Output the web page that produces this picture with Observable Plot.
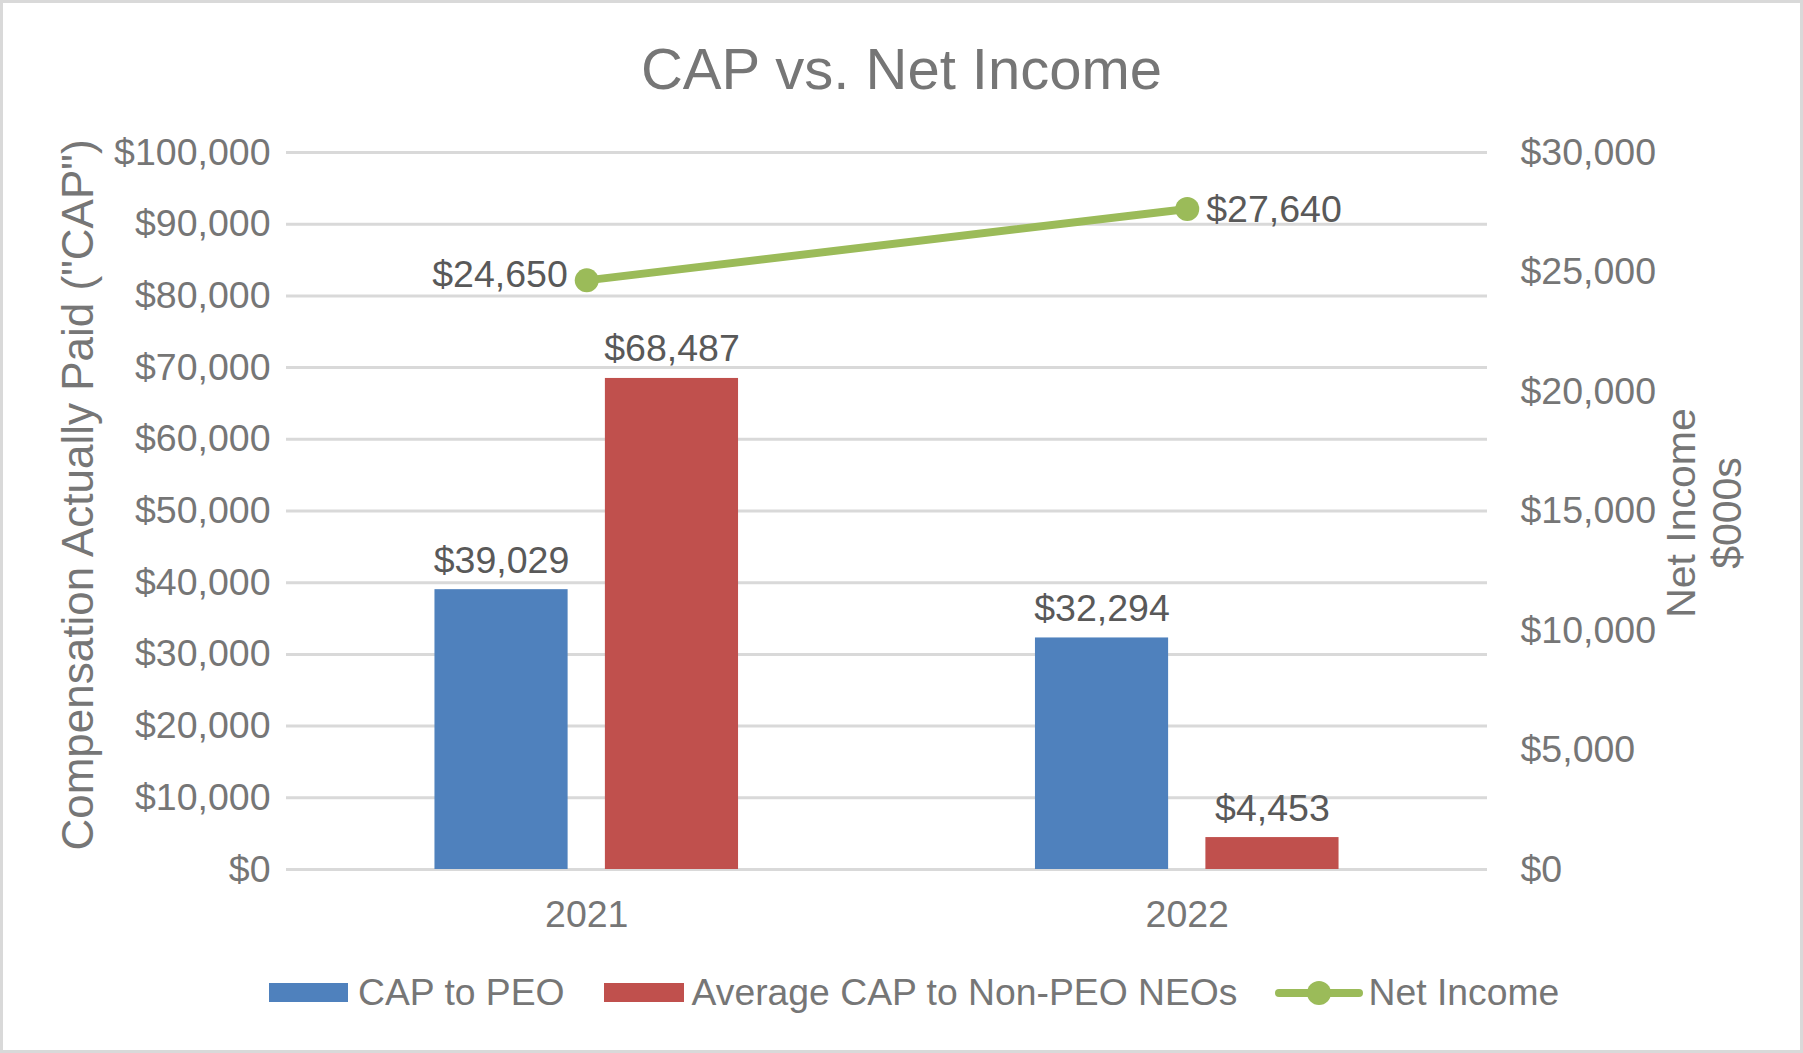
<!DOCTYPE html>
<html>
<head>
<meta charset="utf-8">
<script src="https://cdn.jsdelivr.net/npm/d3@7"></script>
<script src="https://cdn.jsdelivr.net/npm/@observablehq/plot@0.6"></script>
<style>
  html, body { margin: 0; padding: 0; background: #fff; }
  #chart { position: relative; width: 1803px; height: 1053px; overflow: hidden;
           font-family: "Liberation Sans", Arial, sans-serif; background: #fff; }
  #frame { position: absolute; left: 0; top: 0; right: 0; bottom: 0; box-sizing: border-box;
           border: 3px solid #d9d9d9; pointer-events: none; }
  #title { position: absolute; left: 0; right: 0; top: 40px; text-align: center;
           font-size: 58px; line-height: 58px; color: #767676; }
  #plot { position: absolute; left: 0; top: 101px; }
  #legend { position: absolute; left: 269px; top: 974px; display: flex; align-items: center;
            font-size: 37.3px; line-height: 37px; color: #767676; white-space: nowrap; }
  .item { display: flex; align-items: center; }
  .sw { display: inline-block; width: 79px; height: 19px; }
</style>
</head>
<body>
<div id="chart">
  <div id="title"></div>
  <div id="plot"></div>
  <div id="legend"></div>
  <div id="frame"></div>
</div>
<script>
// ---- data ----
const chartTitle = "CAP vs. Net Income";
const years = ["2021", "2022"];
const capPEO = [39029, 32294];
const capNEO = [68487, 4453];
const netIncome = [24650, 27640];
const leftTicks = [0, 10000, 20000, 30000, 40000, 50000, 60000, 70000, 80000, 90000, 100000];
const rightTicks = [0, 5000, 10000, 15000, 20000, 25000, 30000];
const seriesNames = ["CAP to PEO", "Average CAP to Non-PEO NEOs", "Net Income"];
const leftTitle = "Compensation Actually Paid (\"CAP\")";
const rightTitle = "Net Income\n$000s";

// ---- styling ----
const colors = ["#4F81BD", "#C0504D", "#9BBB59"];
const axisGray = "#767676";
const labelGray = "#595959";
const fmt = d3.format(",");
const money = v => "$" + fmt(v);
const FS = 37.5;

const W = 1803, H = 848, ML = 286, MR = 316, MT = 51, MB = 80;
const leftMax = 100000, rightMax = 30000;
const factor = leftMax / rightMax;

const bandW = (W - ML - MR) / years.length;
const gapWidth = 2.23, seriesGap = 0.28;
const barW = bandW / (2 + gapWidth + seriesGap);
const outer = gapWidth * barW / 2;
const peoInset = {insetLeft: outer, insetRight: bandW - outer - barW};
const neoInset = {insetLeft: outer + barW + seriesGap * barW, insetRight: outer};
const peoDx = outer + barW / 2 - bandW / 2;
const neoDx = -peoDx;

const peoData = years.map((year, i) => ({year, value: capPEO[i]}));
const neoData = years.map((year, i) => ({year, value: capNEO[i]}));
const netData = years.map((year, i) => ({year, value: netIncome[i]}));

document.getElementById("title").textContent = chartTitle;

const plot = Plot.plot({
  width: W, height: H,
  marginLeft: ML, marginRight: MR, marginTop: MT, marginBottom: MB,
  style: {fontFamily: "'Liberation Sans', Arial, sans-serif", fontSize: FS + "px", color: axisGray, background: "transparent", overflow: "visible"},
  x: {type: "band", domain: years, padding: 0, round: false},
  y: {domain: [0, leftMax]},
  marks: [
    Plot.gridY(leftTicks, {stroke: "#d9d9d9", strokeOpacity: 1, strokeWidth: 3}),
    Plot.axisY({anchor: "left", ticks: leftTicks, tickFormat: money, tickSize: 0, tickPadding: 16, label: null, fontSize: FS}),
    Plot.axisY({anchor: "right", ticks: rightTicks.map(v => v * factor), tickFormat: d => money(Math.round(d / factor)), tickSize: 0, tickPadding: 33, label: null, fontSize: FS}),
    Plot.axisX({tickSize: 0, tickPadding: 31, label: null, fontSize: FS}),
    Plot.barY(peoData, {x: "year", y: "value", fill: colors[0], ...peoInset}),
    Plot.barY(neoData, {x: "year", y: "value", fill: colors[1], ...neoInset}),
    Plot.text(peoData, {x: "year", y: "value", text: d => money(d.value), dx: peoDx, dy: -17, lineAnchor: "bottom", fill: labelGray, fontSize: FS}),
    Plot.text(neoData, {x: "year", y: "value", text: d => money(d.value), dx: neoDx, dy: -17, lineAnchor: "bottom", fill: labelGray, fontSize: FS}),
    Plot.line(netData, {x: "year", y: d => d.value * factor, stroke: colors[2], strokeWidth: 8, strokeLinecap: "round"}),
    Plot.dot(netData, {x: "year", y: d => d.value * factor, r: 12, fill: colors[2], stroke: "none"}),
    Plot.text(netData.slice(0, 1), {x: "year", y: d => d.value * factor, text: d => money(d.value), dx: -19, dy: -5, textAnchor: "end", lineAnchor: "middle", fill: labelGray, fontSize: FS}),
    Plot.text(netData.slice(1), {x: "year", y: d => d.value * factor, text: d => money(d.value), dx: 19, dy: 1, textAnchor: "start", lineAnchor: "middle", fill: labelGray, fontSize: FS}),
    Plot.text([leftTitle], {frameAnchor: "left", text: d => d, rotate: -90, dx: 78 - ML, dy: -16, textAnchor: "middle", lineAnchor: "middle", fill: axisGray, fontSize: 44}),
    Plot.text([rightTitle], {frameAnchor: "right", text: d => d, rotate: -90, dx: 1703 - (W - MR), dy: 2, textAnchor: "middle", lineAnchor: "middle", lineHeight: 1.12, fill: axisGray, fontSize: 41})
  ]
});
document.getElementById("plot").appendChild(plot);

// ---- legend ----
const legend = document.getElementById("legend");
seriesNames.forEach((name, i) => {
  const item = document.createElement("div");
  item.className = "item";
  if (i < 2) {
    const sw = document.createElement("span");
    sw.className = "sw";
    sw.style.background = colors[i];
    sw.style.width = (i === 0 ? 79 : 80) + "px";
    sw.style.marginRight = (i === 0 ? 10 : 8) + "px";
    item.appendChild(sw);
  } else {
    const ns = "http://www.w3.org/2000/svg";
    const svg = document.createElementNS(ns, "svg");
    svg.setAttribute("width", 88); svg.setAttribute("height", 28);
    svg.style.marginRight = "6px";
    const ln = document.createElementNS(ns, "line");
    ln.setAttribute("x1", 4); ln.setAttribute("x2", 84); ln.setAttribute("y1", 14); ln.setAttribute("y2", 14);
    ln.setAttribute("stroke", colors[2]); ln.setAttribute("stroke-width", 8); ln.setAttribute("stroke-linecap", "round");
    const c = document.createElementNS(ns, "circle");
    c.setAttribute("cx", 44); c.setAttribute("cy", 14); c.setAttribute("r", 12); c.setAttribute("fill", colors[2]);
    svg.appendChild(ln); svg.appendChild(c);
    item.appendChild(svg);
  }
  const t = document.createElement("span");
  t.textContent = name;
  item.appendChild(t);
  item.style.marginRight = i === 0 ? "39px" : (i === 1 ? "37px" : "0");
  legend.appendChild(item);
});
</script>
</body>
</html>
